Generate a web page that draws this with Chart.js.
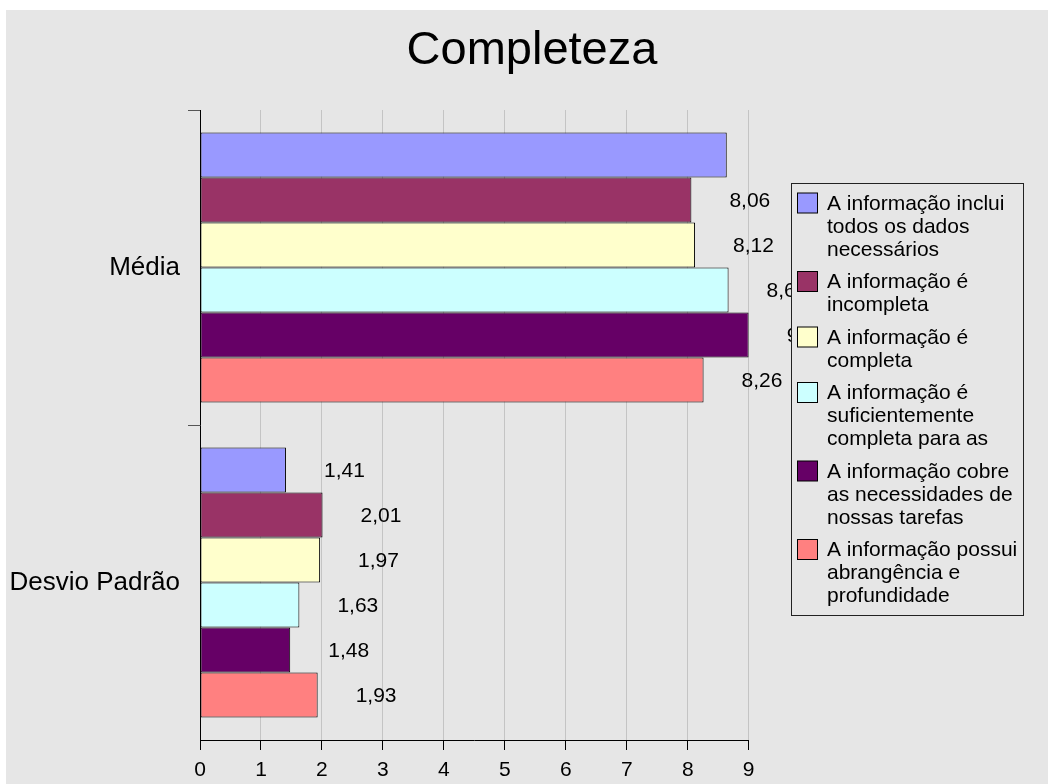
<!DOCTYPE html>
<html>
<head>
<meta charset="utf-8">
<title>Completeza</title>
<script src="https://cdn.jsdelivr.net/npm/chart.js@4/dist/chart.umd.min.js"></script>
<style>
  html, body { margin: 0; padding: 0; background: #ffffff; }
  #wrap { width: 1048px; height: 784px; position: relative; }
</style>
</head>
<body>
<div id="wrap"><canvas id="chart" width="1048" height="784"></canvas></div>
<script>
// ---- data ----
const chartTitle = 'Completeza';
const categories = ['Média', 'Desvio Padrão'];
const xTickValues = [0, 1, 2, 3, 4, 5, 6, 7, 8, 9];

// legend names, already broken into the lines they are shown on
const seriesNames = [
  ['A informação inclui', 'todos os dados', 'necessários'],
  ['A informação é', 'incompleta'],
  ['A informação é', 'completa'],
  ['A informação é', 'suficientemente', 'completa para as'],
  ['A informação cobre', 'as necessidades de', 'nossas tarefas'],
  ['A informação possui', 'abrangência e', 'profundidade']
];
const seriesColors = ['#9999ff', '#993366', '#ffffcc', '#ccffff', '#660066', '#ff8080'];

// values per series: [Média, Desvio Padrão]
const incluiDados   = [8.64, 1.41];
const incompleta    = [8.06, 2.01];
const completa      = [8.12, 1.97];
const suficiente    = [8.67, 1.63];
const cobreTarefas  = [9,    1.48];
const abrangencia   = [8.26, 1.93];
const seriesValues = [incluiDados, incompleta, completa, suficiente, cobreTarefas, abrangencia];

// [series, category] pairs that carry no value label
const unlabeled = [[0, 0]];

// ---- drawing ----
const FONT = '"Liberation Sans", Arial, Helvetica, sans-serif';
const BG = '#e6e6e6';
Chart.defaults.font.family = FONT;

const fmt = v => String(v).replace('.', ',');

const backgroundPlugin = {
  id: 'panelBackground',
  beforeDraw(chart) {
    const { ctx, width, height } = chart;
    ctx.save();
    ctx.fillStyle = '#ffffff';
    ctx.fillRect(0, 0, width, height);
    ctx.fillStyle = BG;
    ctx.fillRect(6, 10, width - 6, height - 10);
    ctx.restore();
  }
};

const valueLabelPlugin = {
  id: 'valueLabels',
  afterDatasetsDraw(chart) {
    const ctx = chart.ctx;
    ctx.save();
    ctx.font = '21px ' + FONT;
    ctx.fillStyle = '#000000';
    ctx.textAlign = 'left';
    ctx.textBaseline = 'middle';
    chart.data.datasets.forEach((ds, i) => {
      const meta = chart.getDatasetMeta(i);
      meta.data.forEach((bar, j) => {
        if (unlabeled.some(([s, c]) => s === i && c === j)) return;
        ctx.fillText(fmt(ds.data[j]), bar.x + 38, bar.y + 1);
      });
    });
    ctx.restore();
  }
};

const titleLegendPlugin = {
  id: 'titleAndLegend',
  afterDraw(chart) {
    const ctx = chart.ctx;
    ctx.save();

    // title
    ctx.font = '47px ' + FONT;
    ctx.fillStyle = '#000000';
    ctx.textAlign = 'center';
    ctx.textBaseline = 'middle';
    ctx.fillText(chartTitle, 532, 51);

    // legend box
    const box = { x: 791.5, y: 183.5, w: 232, h: 432 };
    ctx.fillStyle = BG;
    ctx.fillRect(box.x, box.y, box.w, box.h);
    ctx.strokeStyle = '#222222';
    ctx.lineWidth = 1;
    ctx.strokeRect(box.x, box.y, box.w, box.h);

    ctx.font = '21px ' + FONT;
    ctx.textAlign = 'left';
    ctx.textBaseline = 'alphabetic';
    const lineH = 23;
    const itemGap = 9.5;
    let baseline = 209.5;
    chart.data.datasets.forEach((ds, i) => {
      const lines = seriesNames[i];
      ctx.fillStyle = ds.backgroundColor;
      ctx.fillRect(797.5, baseline - 16.5, 20, 20);
      ctx.strokeStyle = '#000000';
      ctx.strokeRect(797.5, baseline - 16.5, 20, 20);
      ctx.fillStyle = '#000000';
      lines.forEach((t, k) => ctx.fillText(t, 827, baseline + k * lineH));
      baseline += lines.length * lineH + itemGap;
    });
    ctx.restore();
  }
};

new Chart(document.getElementById('chart'), {
  type: 'bar',
  data: {
    labels: categories,
    datasets: seriesValues.map((vals, i) => ({
      label: seriesNames[i].join(' '),
      data: vals,
      backgroundColor: seriesColors[i],
      borderColor: '#000000',
      borderWidth: 1,
      borderSkipped: false,
      categoryPercentage: 0.857,
      barPercentage: 1
    }))
  },
  options: {
    indexAxis: 'y',
    responsive: false,
    animation: false,
    layout: { padding: { top: 110, right: 299.3, bottom: 0, left: 0 } },
    plugins: {
      legend: { display: false },
      title: { display: false },
      tooltip: { enabled: false }
    },
    scales: {
      x: {
        type: 'linear',
        min: 0,
        max: 9,
        afterBuildTicks: s => { s.ticks = xTickValues.map(v => ({ value: v })); },
        grid: { color: '#c4c4c4', tickColor: '#000000', tickLength: 10, lineWidth: 1 },
        border: { color: '#000000', width: 1 },
        ticks: { color: '#000000', font: { size: 21 }, padding: 8, callback: v => fmt(v) },
        afterFit: s => { s.height = 44; }
      },
      y: {
        type: 'category',
        grid: {
          drawOnChartArea: false,
          offset: true,
          tickLength: 12,
          // the closing boundary line (where the two axes meet) gets no outward tick
          tickColor: c => (c.tick === undefined ? 'rgba(0,0,0,0)' : '#555555')
        },
        border: { color: '#000000', width: 1 },
        ticks: { color: '#000000', font: { size: 26 }, padding: 8 },
        afterFit: s => { s.width = 200; }
      }
    }
  },
  plugins: [backgroundPlugin, valueLabelPlugin, titleLegendPlugin]
});
</script>
</body>
</html>
